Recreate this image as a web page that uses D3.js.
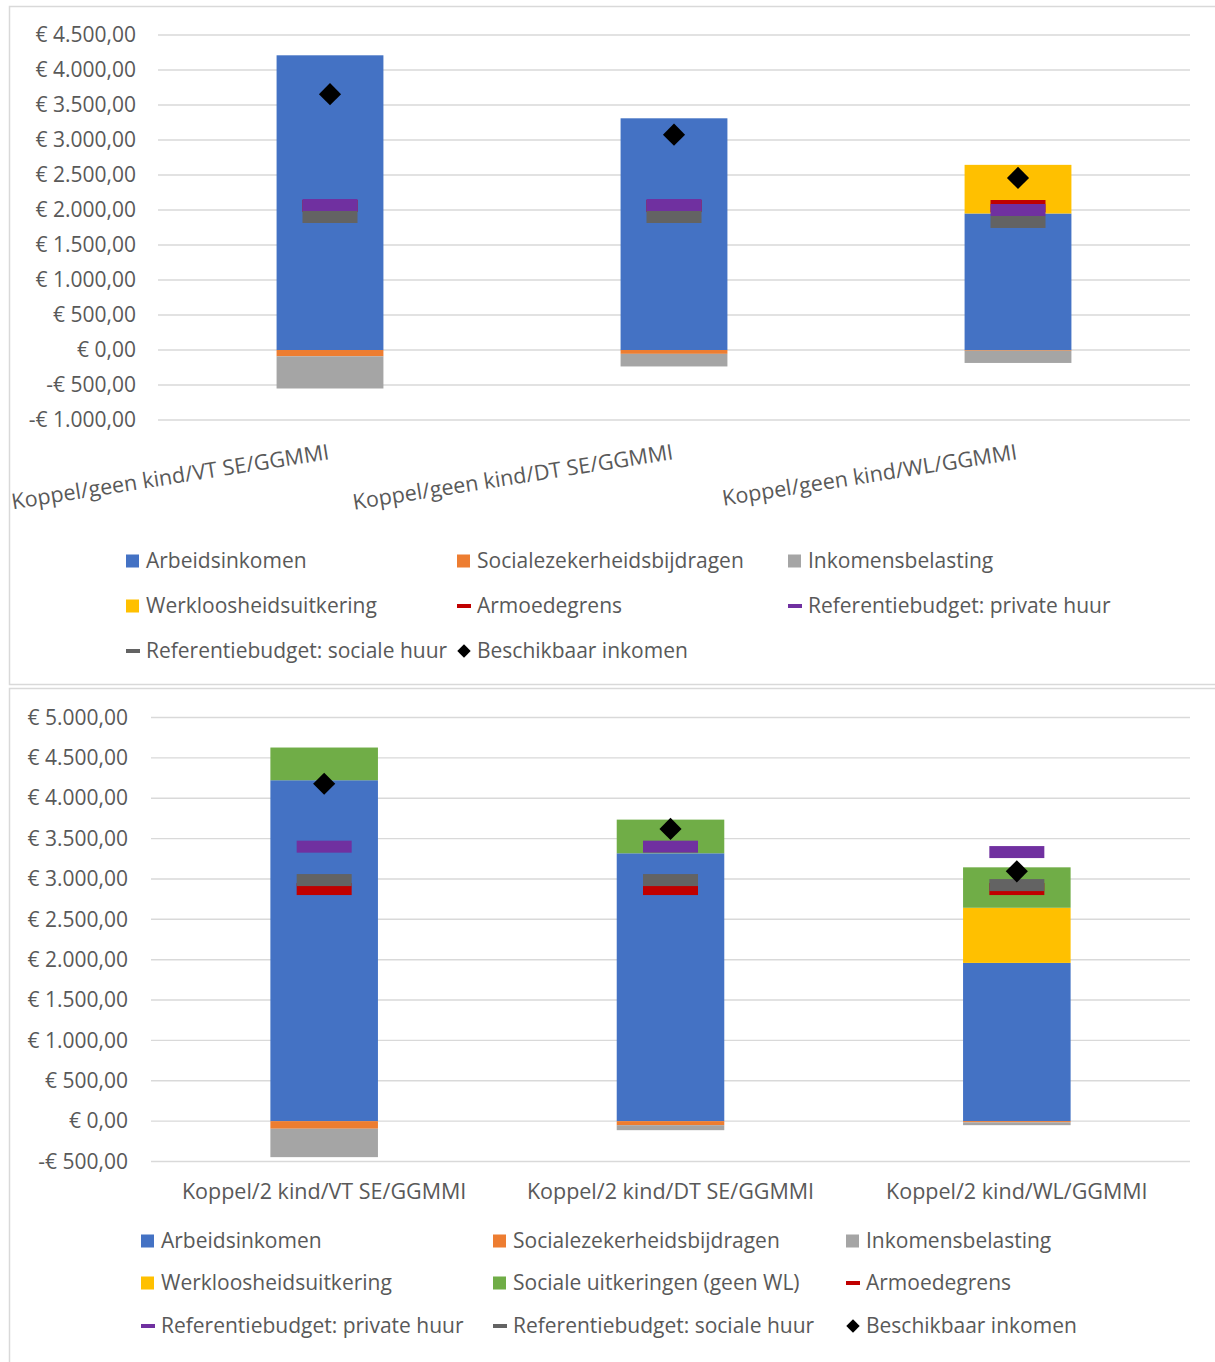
<!DOCTYPE html>
<html>
<head>
<meta charset="utf-8">
<script src="https://cdn.jsdelivr.net/npm/d3@7"></script>
<style>
  body { margin: 0; background: #fff; }
  text { font-family: "Open Sans", sans-serif; fill: #595959; }
</style>
</head>
<body>
<script>
// ---------------------------------------------------------------------------
// data: top chart (koppel zonder kinderen)
var cats1 = ["Koppel/geen kind/VT SE/GGMMI", "Koppel/geen kind/DT SE/GGMMI", "Koppel/geen kind/WL/GGMMI"];
var arbeid1 = [4210, 3310, 1950];
var szb1 = [-90, -55, -10];
var belasting1 = [-460, -180, -175];
var wl1 = [0, 0, 695];
var armoede1 = [2057, 2057, 2057];
var privaat1 = [2071, 2071, 2000];
var sociaal1 = [1900, 1900, 1829];
var beschikbaar1 = [3655, 3076, 2458];
var ticks1 = [-1000, -500, 0, 500, 1000, 1500, 2000, 2500, 3000, 3500, 4000, 4500];

// data: bottom chart (koppel met 2 kinderen)
var cats2 = ["Koppel/2 kind/VT SE/GGMMI", "Koppel/2 kind/DT SE/GGMMI", "Koppel/2 kind/WL/GGMMI"];
var arbeid2 = [4223, 3318, 1960];
var szb2 = [-94, -50, -15];
var belasting2 = [-352, -62, -35];
var wl2 = [0, 0, 683];
var sociale2 = [405, 417, 501];
var armoede2 = [2875, 2875, 2875];
var privaat2 = [3400, 3400, 3333];
var sociaal2 = [2986, 2986, 2924];
var beschikbaar2 = [4180, 3620, 3094];
var ticks2 = [-500, 0, 500, 1000, 1500, 2000, 2500, 3000, 3500, 4000, 4500, 5000];

// ---------------------------------------------------------------------------
var W = 1215, H = 1362;
var col = {
    arbeid: "#4472C4", szb: "#ED7D31", belasting: "#A5A5A5", wl: "#FFC000",
    sociale: "#70AD47", armoede: "#C00000", privaat: "#7030A0", sociaal: "#636363"
};
var names = {
    arbeid: "Arbeidsinkomen", szb: "Socialezekerheidsbijdragen", belasting: "Inkomensbelasting",
    wl: "Werkloosheidsuitkering", sociale: "Sociale uitkeringen (geen WL)", armoede: "Armoedegrens",
    privaat: "Referentiebudget: private huur", sociaal: "Referentiebudget: sociale huur",
    beschikbaar: "Beschikbaar inkomen"
};

var nl = d3.formatLocale({decimal: ",", thousands: ".", grouping: [3], currency: ["€ ", ""]});
var fmt = nl.format(",.2f");
function euro(v) { return (v < 0 ? "-€ " : "€ ") + fmt(Math.abs(v)); }

var svg = d3.select("body").append("svg")
    .attr("width", W)
    .attr("height", H);

// panel frames
svg.append("rect").attr("x", 9.5).attr("y", 6.5).attr("width", W).attr("height", 678)
    .attr("fill", "none").attr("stroke", "#d9d9d9").attr("stroke-width", 1.5);
svg.append("rect").attr("x", 9.5).attr("y", 688.5).attr("width", W).attr("height", H)
    .attr("fill", "none").attr("stroke", "#d9d9d9").attr("stroke-width", 1.5);

function diamond(size) {
    return d3.symbol(d3.symbolSquare, size)();
}

function drawChart(o) {
    var g = svg.append("g");
    var x = d3.scaleBand().domain(o.cats).range([o.x0, o.x1]);
    var y = d3.scaleLinear().domain([o.ticks[0], o.ticks[o.ticks.length - 1]]).range([o.yBottom, o.yTop]);
    var bw = x.bandwidth() / 3.22;

    // gridlines
    g.append("g").selectAll("line").data(o.ticks).enter().append("line")
        .attr("x1", o.x0).attr("x2", o.x1)
        .attr("y1", function(d) { return y(d); })
        .attr("y2", function(d) { return y(d); })
        .attr("stroke", "#d9d9d9").attr("stroke-width", 1.4);

    // y axis labels
    var ax = g.append("g").attr("transform", "translate(" + o.x0 + ",0)")
        .call(d3.axisLeft(y).tickValues(o.ticks).tickFormat(euro).tickSize(0).tickPadding(o.tickPad));
    ax.select(".domain").remove();
    ax.selectAll("text").attr("font-size", o.fs).attr("fill", "#595959")
        .style("font-family", "\"Open Sans\", sans-serif");

    // stacked bars
    var rows = o.cats.map(function(c, i) {
        var r = {cat: c};
        o.barKeys.forEach(function(k) { r[k] = o.bars[k][i]; });
        return r;
    });
    var stack = d3.stack().keys(o.barKeys).offset(d3.stackOffsetDiverging)(rows);
    g.append("g").selectAll("g").data(stack).enter().append("g")
        .attr("fill", function(s) { return col[s.key]; })
        .selectAll("rect").data(function(s) { return s; }).enter().append("rect")
        .attr("x", function(d) { return x(d.data.cat) + x.bandwidth() / 2 - bw / 2; })
        .attr("width", bw)
        .attr("y", function(d) { return y(Math.max(d[0], d[1])); })
        .attr("height", function(d) { return Math.abs(y(d[0]) - y(d[1])); });

    // dash markers (line series without lines)
    o.lineKeys.forEach(function(k) {
        g.append("g").selectAll("rect").data(o.lines[k]).enter().append("rect")
            .attr("x", function(d, i) { return x(o.cats[i]) + x.bandwidth() / 2 - 27.5; })
            .attr("y", function(d) { return y(d) - 6; })
            .attr("width", 55).attr("height", 12)
            .attr("fill", col[k]);
    });

    // beschikbaar inkomen
    g.append("g").selectAll("path").data(o.diamonds).enter().append("path")
        .attr("d", diamond(245))
        .attr("transform", function(d, i) {
            return "translate(" + (x(o.cats[i]) + x.bandwidth() / 2) + "," + y(d) + ") rotate(45)";
        })
        .attr("fill", "#000");

    // category labels
    var lab = g.append("g").selectAll("text").data(o.cats).enter().append("text")
        .attr("font-size", o.catFs)
        .text(function(d) { return d; });
    if (o.rotate) {
        lab.attr("text-anchor", "end")
            .attr("transform", function(d) {
                return "translate(" + (x(d) + x.bandwidth() / 2) + "," + o.catY + ") rotate(" + o.rotate + ")";
            });
    } else {
        lab.attr("text-anchor", "middle")
            .attr("x", function(d) { return x(d) + x.bandwidth() / 2; })
            .attr("y", o.catY);
    }

    // legend
    var lg = g.append("g");
    o.legend.forEach(function(k, i) {
        var cx = o.legX[i % 3], cy = o.legY[Math.floor(i / 3)];
        var it = lg.append("g").attr("transform", "translate(" + cx + "," + cy + ")");
        if (o.barKeys.indexOf(k) >= 0) {
            it.append("rect").attr("x", 0).attr("y", -6.5).attr("width", 13).attr("height", 13).attr("fill", col[k]);
        } else if (k === "beschikbaar") {
            it.append("path").attr("d", d3.symbol(d3.symbolSquare, 90)())
                .attr("transform", "translate(7,0) rotate(45)").attr("fill", "#000");
        } else {
            it.append("rect").attr("x", 0).attr("y", -2).attr("width", 14).attr("height", 4).attr("fill", col[k]);
        }
        it.append("text").attr("x", 20).attr("dy", "0.35em")
            .attr("font-size", o.legFs).text(names[k]);
    });
}

drawChart({
    cats: cats1, ticks: ticks1,
    x0: 158, x1: 1190, yTop: 35, yBottom: 420, tickPad: 22, fs: 21,
    barKeys: ["arbeid", "szb", "belasting", "wl"],
    bars: {arbeid: arbeid1, szb: szb1, belasting: belasting1, wl: wl1},
    lineKeys: ["armoede", "privaat", "sociaal"],
    lines: {armoede: armoede1, privaat: privaat1, sociaal: sociaal1},
    diamonds: beschikbaar1,
    rotate: -9, catY: 459, catFs: 21.5,
    legend: ["arbeid", "szb", "belasting", "wl", "armoede", "privaat", "sociaal", "beschikbaar"],
    legX: [126, 457, 788], legY: [561, 606, 651], legFs: 21
});

drawChart({
    cats: cats2, ticks: ticks2,
    x0: 151, x1: 1190, yTop: 717.5, yBottom: 1161.5, tickPad: 23, fs: 21,
    barKeys: ["arbeid", "szb", "belasting", "wl", "sociale"],
    bars: {arbeid: arbeid2, szb: szb2, belasting: belasting2, wl: wl2, sociale: sociale2},
    lineKeys: ["armoede", "privaat", "sociaal"],
    lines: {armoede: armoede2, privaat: privaat2, sociaal: sociaal2},
    diamonds: beschikbaar2,
    rotate: 0, catY: 1199, catFs: 21.5,
    legend: ["arbeid", "szb", "belasting", "wl", "sociale", "armoede", "privaat", "sociaal", "beschikbaar"],
    legX: [141, 493, 846], legY: [1241, 1283, 1326], legFs: 21
});
</script>
</body>
</html>
